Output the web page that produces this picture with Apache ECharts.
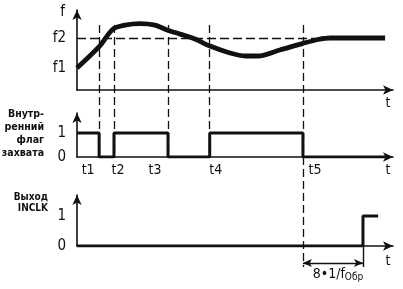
<!DOCTYPE html>
<html><head><meta charset="utf-8">
<script src="https://cdn.jsdelivr.net/npm/echarts@6/dist/echarts.min.js"></script>
<style>html,body{margin:0;padding:0;background:#fff}#c{width:403px;height:289px}</style>
</head><body><div id="c"></div>
<script>
// ---- data ----
const eventTimes = [7, 11.7, 28.8, 42, 71.5];
const eventLabels = ['t1', 't2', 't3', 't4', 't5'];
const freqLevels = [1, 2];
const freqLevelLabels = ['f1', 'f2'];
const freqT = [0, 7, 11.4, 15.2, 19.9, 24.7, 28.5, 32.6, 37.3, 42.1, 48.4, 53.2, 57.3, 64.2, 71.5, 76.3, 80.1, 97.5];
const freqF = [1.0, 1.71, 2.30, 2.43, 2.48, 2.43, 2.27, 2.13, 1.97, 1.73, 1.50, 1.40, 1.40, 1.60, 1.82, 1.95, 2.0, 2.0];
const flagT = [0, 7, 11.7, 28.8, 42, 71.5, 97.5];
const flagV = [1, 0, 1, 0, 1, 0, 0];
const outT = [0, 90.5, 95.3];
const outV = [0, 1, 1];
const levelTicks = [0, 1];
const delayLabel = '8•1/f';
const delaySub = 'Обр';

// ---- layout ----
const FONT = '"Liberation Sans Narrow","DejaVu Sans Condensed","Roboto Condensed","Liberation Sans",sans-serif';
const INK = '#111';
const L = 77, R = 10, H = 289;
const P = [ {top: 10, base: 90}, {top: 113, base: 157}, {top: 195, base: 246} ];
const OV_TOP = 25, OV_BOT = 267, DIM_Y = 263;

const chart = echarts.init(document.getElementById('c'), null, {renderer: 'canvas'});
const zip = (a, b) => a.map((v, i) => [v, b[i]]);
const axisLine = {show: true, onZero: false, symbol: ['none', 'arrow'], symbolSize: [7, 10], lineStyle: {color: INK, width: 1.6}};
const tName = {name: 't', nameLocation: 'end', nameGap: -5,
  nameTextStyle: {color: INK, fontFamily: FONT, fontSize: 14, align: 'center', verticalAlign: 'top', padding: [6, 0, 0, 0]}};
const labelOffsets = [-11, 4, -13, 6, 12];

const xBase = {type: 'value', min: 0, max: 100, splitLine: {show: false}, axisTick: {show: false}};
const yBase = {type: 'value', splitLine: {show: false}, axisTick: {show: false}, axisLine: axisLine};

const option = {
  animation: false,
  grid: [
    ...P.map(p => ({left: L, right: R, top: p.top, bottom: H - p.base})),
    {left: L, right: R, top: OV_TOP, bottom: H - OV_BOT}
  ],
  xAxis: [
    Object.assign({}, xBase, tName, {gridIndex: 0, axisLine: axisLine, axisLabel: {show: false}}),
    Object.assign({}, xBase, tName, {gridIndex: 1, axisLine: axisLine,
      axisLabel: {show: true, customValues: eventTimes, margin: 6,
        formatter: v => {
          const i = eventTimes.findIndex(t => Math.abs(t - v) < 1e-6);
          const o = labelOffsets[i];
          const g = '{g' + (o < 0 ? 'R' : 'L') + i + '|}';
          return o < 0 ? '{a|' + eventLabels[i] + '}' + g : g + '{a|' + eventLabels[i] + '}';
        },
        rich: Object.assign({a: {color: INK, fontFamily: FONT, fontSize: 14}},
          ...labelOffsets.map((o, i) => ({['g' + (o < 0 ? 'R' : 'L') + i]: {width: Math.abs(o) * 2, height: 1}})))
      }}),
    Object.assign({}, xBase, tName, {gridIndex: 2, axisLine: axisLine, axisLabel: {show: false},
      nameTextStyle: Object.assign({}, tName.nameTextStyle, {padding: [8, 0, 0, 0]})}),
    Object.assign({}, xBase, {gridIndex: 3, show: false})
  ],
  yAxis: [
    Object.assign({}, yBase, {gridIndex: 0, min: 0.267, max: 2.933, name: 'f', nameLocation: 'end', nameGap: -2,
      nameTextStyle: {color: INK, fontFamily: FONT, fontSize: 15, align: 'right', verticalAlign: 'middle', padding: [0, 12, 0, 0]},
      axisLabel: {customValues: freqLevels, margin: 11, color: INK, fontFamily: FONT, fontSize: 15,
        formatter: v => freqLevelLabels[freqLevels.indexOf(v)]}}),
    Object.assign({}, yBase, {gridIndex: 1, min: 0, max: 1.833,
      axisLabel: {customValues: levelTicks, margin: 11, color: INK, fontFamily: FONT, fontSize: 15}}),
    Object.assign({}, yBase, {gridIndex: 2, min: 0, max: 1.7,
      axisLabel: {customValues: levelTicks, margin: 11, color: INK, fontFamily: FONT, fontSize: 15}}),
    {type: 'value', gridIndex: 3, min: OV_TOP, max: OV_BOT, inverse: true, show: false}
  ],
  graphic: [
    {type: 'text', x: 44, y: 108, style: {text: 'Внутр-\nренний\nфлаг\nзахвата', align: 'right', verticalAlign: 'top',
      fontFamily: FONT, fontSize: 10.5, fontWeight: 'bold', lineHeight: 13, fill: INK}},
    {type: 'text', x: 48, y: 192, style: {text: 'Выход\nINCLK', align: 'right', verticalAlign: 'top',
      fontFamily: FONT, fontSize: 10, fontWeight: 'bold', lineHeight: 11, fill: INK}}
  ],
  series: [
    {type: 'line', xAxisIndex: 0, yAxisIndex: 0, data: zip(freqT, freqF), smooth: 0.3, symbol: 'none',
      lineStyle: {color: INK, width: 4.8}, z: 5,
      markLine: {silent: true, symbol: 'none', label: {show: false},
        lineStyle: {color: INK, width: 1.3, type: [9, 4]},
        data: [[{coord: [0, freqLevels[1]]}, {coord: [97.5, freqLevels[1]]}]]}},
    {type: 'line', xAxisIndex: 1, yAxisIndex: 1, data: zip(flagT, flagV), step: 'end', symbol: 'none',
      lineStyle: {color: INK, width: 3}, z: 5},
    {type: 'line', xAxisIndex: 2, yAxisIndex: 2, data: zip(outT, outV), step: 'end', symbol: 'none',
      lineStyle: {color: INK, width: 3}, z: 5},
    {type: 'line', xAxisIndex: 3, yAxisIndex: 3, data: [[0, OV_TOP]], symbol: 'none', lineStyle: {opacity: 0},
      markLine: {silent: true, symbol: 'none', label: {show: false},
        lineStyle: {color: INK, width: 1.3, type: [8, 4]},
        data: eventTimes.map((t, i) => [{coord: [t, OV_TOP]}, {coord: [t, i === 4 ? OV_BOT : P[1].base]}])
          .concat([[{coord: [outT[1], P[2].base], lineStyle: {type: 'solid', width: 1.4}}, {coord: [outT[1], OV_BOT]}]])}},
    {type: 'line', xAxisIndex: 3, yAxisIndex: 3, data: [[0, OV_TOP]], symbol: 'none', lineStyle: {opacity: 0},
      markLine: {silent: true, symbol: ['arrow', 'arrow'], symbolSize: [6, 9],
        lineStyle: {color: INK, width: 1.4, type: 'solid'},
        label: {show: true, position: 'insideMiddleBottom', distance: 3,
          formatter: '{m|' + delayLabel + '}{s|' + delaySub + '}',
          rich: {m: {color: INK, fontFamily: FONT, fontSize: 14, padding: [0, 0, 0, 10]},
                 s: {color: INK, fontFamily: FONT, fontSize: 10, padding: [6, 0, 0, 0]}}},
        data: [[{coord: [eventTimes[4], DIM_Y]}, {coord: [outT[1], DIM_Y]}]]}}
  ]
};
chart.setOption(option);
</script></body></html>
